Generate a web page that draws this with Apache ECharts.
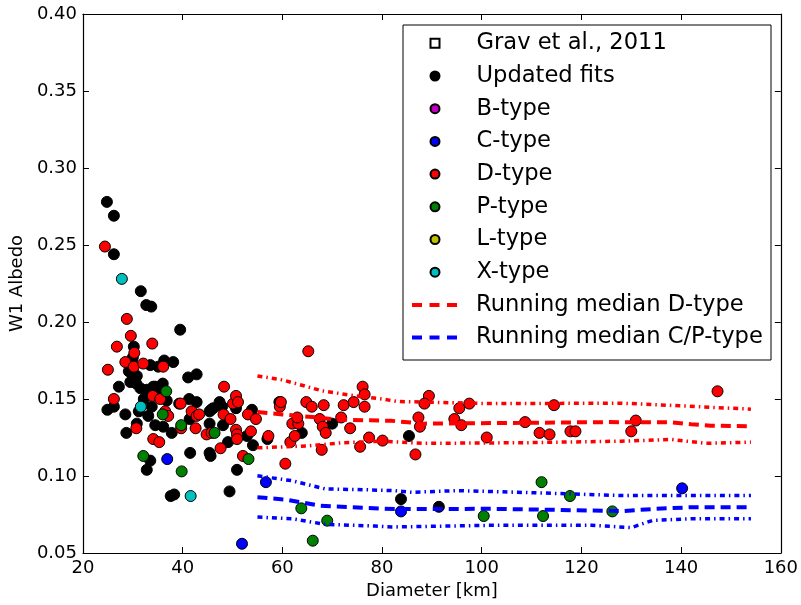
<!DOCTYPE html>
<html><head><meta charset="utf-8">
<script src="https://cdn.jsdelivr.net/npm/echarts@6/dist/echarts.min.js"></script>
<style>html,body{margin:0;padding:0;background:#fff}#c{width:801px;height:605px}</style>
</head><body><div id="c"></div>
<script>
// ---- tick labels ----
const xTickLabels = ['20','40','60','80','100','120','140','160'];
const yTickLabels = ['0.05','0.10','0.15','0.20','0.25','0.30','0.35','0.40'];

// ---- legend names ----
const scatterNames = ['Grav et al., 2011','Updated fits','B-type','C-type','D-type','P-type','L-type','X-type'];
const lineNames = ['Running median D-type','Running median C/P-type'];

// ---- data: [diameter km, W1 albedo] ----
const gravData = [];
const updatedFits = [
 [24.8,0.278],[26.2,0.269],[26.2,0.244],[31.6,0.220],[32.7,0.211],[33.7,0.210],[39.5,0.195],[24.9,0.143],
 [30.2,0.184],[30.0,0.177],[33.5,0.172],[36.3,0.175],[38.1,0.174],[35.1,0.171],[29.2,0.168],[30.8,0.165],
 [29.5,0.161],[30.7,0.160],[41.1,0.164],[42.8,0.166],[27.2,0.158],[32.8,0.156],[34.1,0.158],[36.0,0.160],
 [35.1,0.154],[36.8,0.149],[26.2,0.145],[28.5,0.140],[31.2,0.142],[33.8,0.145],[33.1,0.139],[34.5,0.133],
 [28.7,0.128],[30.8,0.134],[36.1,0.132],[37.8,0.128],[39.3,0.147],[41.3,0.150],[42.8,0.148],[41.4,0.137],
 [45.4,0.142],[46.1,0.144],[45.4,0.134],[47.4,0.148],[47.9,0.145],[48.1,0.133],[50.7,0.144],[52.9,0.126],
 [54.1,0.120],[49.1,0.122],[45.4,0.115],[45.6,0.113],[41.5,0.115],[50.9,0.104],[33.5,0.110],[32.8,0.104],
 [37.6,0.087],[38.3,0.088],[49.4,0.090],[53.9,0.143],[57.0,0.124],[59.4,0.148],[63.9,0.128],[70.0,0.134],
 [83.8,0.085],[85.4,0.126],[91.4,0.080],[45.7,0.143],[34.5,0.158],[31.5,0.157],[29.8,0.175],[32.2,0.150]
];
const bType = [];
const cType = [[36.9,0.111],[56.7,0.096],[51.9,0.056],[83.8,0.077],[140.2,0.092]];
const dType = [
 [24.4,0.249],[28.8,0.202],[29.6,0.191],[26.8,0.184],[33.9,0.186],[30.3,0.180],[28.5,0.174],[30.2,0.171],
 [32.1,0.173],[36.1,0.171],[25.0,0.169],[48.3,0.158],[34.0,0.152],[35.5,0.150],[26.2,0.150],[36.5,0.142],
 [37.1,0.139],[30.7,0.131],[34.1,0.124],[35.3,0.122],[39.7,0.131],[39.6,0.147],[41.8,0.142],[42.8,0.139],
 [43.3,0.140],[42.6,0.131],[44.8,0.127],[45.8,0.128],[48.2,0.140],[49.6,0.137],[50.1,0.147],[50.7,0.152],
 [51.1,0.148],[50.7,0.130],[50.9,0.127],[50.9,0.124],[53.1,0.140],[54.7,0.137],[53.7,0.129],[47.6,0.118],
 [52.1,0.113],[57.2,0.126],[65.2,0.181],[59.5,0.145],[59.7,0.148],[60.6,0.108],[61.6,0.122],[62.5,0.126],
 [62.0,0.134],[63.2,0.134],[63.0,0.138],[64.8,0.148],[65.9,0.145],[68.3,0.146],[67.5,0.137],[68.1,0.132],
 [68.7,0.128],[71.8,0.138],[72.3,0.146],[74.3,0.148],[73.6,0.131],[76.1,0.158],[76.5,0.153],[76.5,0.145],
 [77.4,0.125],[75.6,0.119],[80.1,0.123],[67.9,0.117],[89.4,0.152],[88.5,0.147],[87.3,0.138],[87.6,0.132],
 [86.7,0.114],[95.5,0.144],[97.5,0.147],[94.5,0.137],[95.9,0.133],[101.0,0.125],[108.7,0.135],[111.6,0.128],
 [113.6,0.127],[114.5,0.146],[117.8,0.129],[118.8,0.129],[130.0,0.129],[130.9,0.136],[147.3,0.155]
];
const pType = [
 [36.7,0.155],[36.0,0.140],[39.7,0.133],[46.4,0.128],[53.2,0.111],[32.1,0.113],[39.8,0.103],[63.8,0.079],
 [69.0,0.071],[66.1,0.058],[100.4,0.074],[112.0,0.096],[112.3,0.074],[117.7,0.087],[126.2,0.077]
];
const lType = [];
const xType = [[27.8,0.228],[31.6,0.145],[41.6,0.087]];

const medianD = [[55,0.1415],[60,0.140],[66,0.1383],[70,0.137],[74,0.1364],[82,0.1358],[88.5,0.134],[95,0.1342],[108,0.1345],[125,0.135],[138,0.1349],[142,0.1336],[146,0.1327],[154,0.1323]];
const upperD = [[55,0.165],[60,0.1624],[68,0.1553],[74.6,0.152],[80,0.150],[83,0.1484],[102,0.147],[128,0.1473],[135,0.1463],[154,0.1434]];
const lowerD = [[55,0.1183],[65,0.1195],[72,0.1216],[80,0.1226],[88,0.1212],[108,0.1216],[128,0.1226],[138,0.1237],[145,0.1212],[154,0.122]];
const medianCP = [[55,0.0862],[60.6,0.0847],[67.4,0.0808],[74,0.0797],[82.5,0.0785],[102,0.0787],[122,0.0776],[128,0.0772],[135,0.0787],[142,0.0797],[154,0.0797]];
const upperCP = [[55,0.1001],[62,0.0969],[68.6,0.0916],[75,0.0912],[82.5,0.0905],[86,0.0894],[95,0.0905],[112,0.089],[128,0.0873],[154,0.0873]];
const lowerCP = [[55,0.0733],[62,0.0722],[68.6,0.0686],[78.6,0.0675],[82,0.0669],[102,0.068],[122,0.068],[130,0.0665],[134.3,0.0712],[142,0.0722],[154,0.0722]];

// ---- build chart ----
const FONT = 'DejaVu Sans';
const xMin = +xTickLabels[0], xMax = +xTickLabels[xTickLabels.length-1], xInt = xTickLabels[1]-xTickLabels[0];
const yMin = +yTickLabels[0], yMax = +yTickLabels[yTickLabels.length-1], yInt = +(yTickLabels[1]-yTickLabels[0]).toFixed(2);

function axisBase(show) {
  return {
    axisLine:{show:true,onZero:false,lineStyle:{color:'#000',width:1.2}},
    axisTick:{show:true,inside:true,length:6,lineStyle:{color:'#000',width:1}},
    splitLine:{show:false},
    axisLabel:{show:show,color:'#000',fontFamily:FONT,fontSize:18}
  };
}
const xAxisMain = Object.assign(axisBase(true), {type:'value',min:xMin,max:xMax,interval:xInt,position:'bottom',
  name:'Diameter [km]',nameLocation:'middle',nameGap:29,nameTextStyle:{color:'#000',fontFamily:FONT,fontSize:18}});
xAxisMain.axisLabel.margin = 6;
xAxisMain.axisLabel.formatter = v => String(Math.round(v));
const xAxisTop = Object.assign(axisBase(false), {type:'value',min:xMin,max:xMax,interval:xInt,position:'top'});
const yAxisMain = Object.assign(axisBase(true), {type:'value',min:yMin,max:yMax,interval:yInt,position:'left',
  name:'W1 Albedo',nameLocation:'middle',nameGap:52,nameTextStyle:{color:'#000',fontFamily:FONT,fontSize:18}});
yAxisMain.axisLabel.margin = 6;
yAxisMain.axisLabel.formatter = v => v.toFixed(2);
const yAxisRight = Object.assign(axisBase(false), {type:'value',min:yMin,max:yMax,interval:yInt,position:'right'});

function sc(name, data, color, symbol) {
  return {type:'scatter',name:name,data:data,symbol:symbol||'circle',symbolSize:11,
    itemStyle:{color:color,borderColor:'#000',borderWidth:1,opacity:1},z:3};
}
function ln(name, data, color, type, width) {
  return {type:'line',name:name,data:data,showSymbol:false,symbol:'none',color:color,
    itemStyle:{color:color},lineStyle:{color:color,width:width,type:type},z:5,silent:true};
}
const dashMed = [10,6];
const dashBound = [5,4,1.5,4];

const colors = {'Grav et al., 2011':'#ffffff','Updated fits':'#000000','B-type':'#bf00bf','C-type':'#0000ff',
  'D-type':'#ff0000','P-type':'#008000','L-type':'#bfbf00','X-type':'#00bfbf'};
const series = [
  sc(scatterNames[0], gravData, colors[scatterNames[0]], 'rect'),
  sc(scatterNames[1], updatedFits, colors[scatterNames[1]]),
  sc(scatterNames[2], bType, colors[scatterNames[2]]),
  sc(scatterNames[3], cType, colors[scatterNames[3]]),
  sc(scatterNames[4], dType, colors[scatterNames[4]]),
  sc(scatterNames[5], pType, colors[scatterNames[5]]),
  sc(scatterNames[6], lType, colors[scatterNames[6]]),
  sc(scatterNames[7], xType, colors[scatterNames[7]]),
  ln(lineNames[0], medianD, '#ff0000', dashMed, 4),
  ln('upperD', upperD, '#ff0000', dashBound, 3.5),
  ln('lowerD', lowerD, '#ff0000', dashBound, 3.5),
  ln(lineNames[1], medianCP, '#0000ff', dashMed, 4),
  ln('upperCP', upperCP, '#0000ff', dashBound, 3.5),
  ln('lowerCP', lowerCP, '#0000ff', dashBound, 3.5)
];

const rowStep = 32.7, row0 = 43.3, textLH = 24;
function legendText(padLeft) {
  return {color:'#000',fontFamily:FONT,fontSize:22.6,lineHeight:textLH,padding:[0,0,0,padLeft]};
}
const option = {
  animation:false,
  backgroundColor:'#fff',
  grid:{left:79,right:19,top:14,bottom:47,containLabel:false},
  xAxis:[xAxisMain, xAxisTop],
  yAxis:[yAxisMain, yAxisRight],
  legend:[
    {orient:'vertical',left:429.5,top:row0 - textLH/2,padding:0,itemWidth:9,itemHeight:9,itemGap:rowStep - textLH,
     textStyle:legendText(32),selectedMode:false,
     data:scatterNames.map((n,i)=>({name:n,icon:i===0?'rect':'circle'}))},
    {orient:'vertical',left:412,top:row0 + 8*rowStep - textLH/2,padding:0,itemWidth:45,itemHeight:5,itemGap:rowStep - textLH,
     textStyle:legendText(14),selectedMode:false,
     data:lineNames.map(n=>({name:n,icon:'path://M0,0h10v4h-10z M17.5,0h10v4h-10z M35,0h10v4h-10z'}))}
  ],
  graphic:[{type:'rect',shape:{x:403,y:25,width:368,height:335},style:{fill:'#fff',stroke:'#000',lineWidth:1},z:1,silent:true}],
  series:series
};
const chart = echarts.init(document.getElementById('c'), null, {renderer:'canvas'});
chart.setOption(option);
</script></body></html>
